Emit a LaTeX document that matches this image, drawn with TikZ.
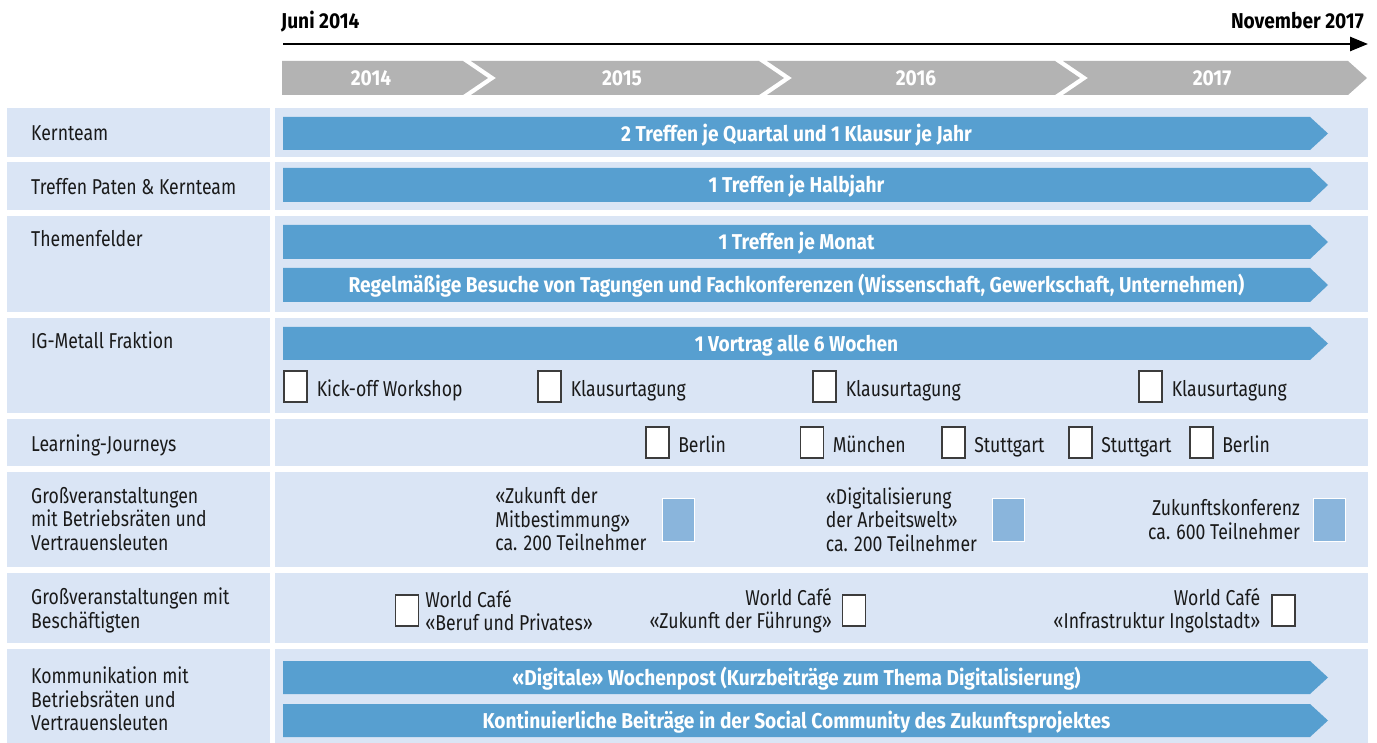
\documentclass[tikz,border=0pt]{standalone}
\usepackage{fontspec}
\setmainfont{Fira Sans}[UprightFeatures={FakeStretch=0.82}, BoldFeatures={FakeStretch=0.89}]
\usetikzlibrary{arrows.meta}
\usetikzlibrary{calc,positioning}

\definecolor{rowbg}{HTML}{DAE5F5}
\definecolor{barblue}{HTML}{579FD0}
\definecolor{eventblue}{HTML}{8AB5DC}
\definecolor{yeargray}{HTML}{B3B3B3}
\definecolor{ink}{HTML}{1A1A1A}

\newcommand{\planfont}{\fontsize{21.5}{23.5}\selectfont}

\newcommand{\planbar}[4]{%
  \fill[barblue] (283,#2) -- (1310,#2) -- (1328,{(#2+#3)/2}) -- (1310,#3) -- (283,#3) -- cycle;
  \node[bartext] (#1) at (796.5,{(#2+#3)/2}) {#4};
}

\tikzset{
  rowlabel/.style={anchor=base west, inner sep=0pt, font=\planfont, text=ink},
  longlabel/.style={anchor=north west, inner sep=0pt, align=left, font=\planfont, text=ink},
  bartext/.style={inner sep=0pt, text height=16pt, text depth=0pt, font=\bfseries\planfont, text=white},
  yeartext/.style={inner sep=0pt, text height=15pt, text depth=0pt, font=\bfseries\planfont, text=white},
  marker/.style={draw=ink!85, fill=white, line width=1.1pt, minimum width=23pt, minimum height=31pt, inner sep=0pt},
  bigevent/.style={draw=white, fill=eventblue, line width=0.8pt, minimum width=32pt, minimum height=43pt, inner sep=0pt},
  itemtext/.style={inner sep=0pt, text height=19pt, text depth=0pt, font=\planfont, text=ink},
  eventtext/.style={inner sep=0pt, font=\planfont, text=ink},
}

\begin{document}
\begin{tikzpicture}[x=1pt, y=-1pt, >={Triangle[length=18pt, width=14pt]}]

  \useasboundingbox (0,0) rectangle (1377,743);

  \node[anchor=base west, inner sep=0pt, font=\bfseries\planfont, text=black] (start) at (281,29) {Juni 2014};
  \node[anchor=base east, inner sep=0pt, font=\bfseries\planfont, text=black] (end) at (1364,29) {November 2017};
  \coordinate (tstart) at (283,44);
  \coordinate (tend) at (1368,44);
  \draw[->, line width=2.6pt] (tstart) -- (tend);

  \fill[yeargray] (282,61) -- (463,61) -- (488,78) -- (463,95) -- (282,95) -- cycle;
  \foreach \xa/\xb in {471/759, 767/1055}
    \fill[yeargray] (\xa,61) -- (\xb,61) -- ({\xb+25},78) -- (\xb,95) -- (\xa,95) -- ({\xa+25},78) -- cycle;
  \fill[yeargray] (1063,61) -- (1348,61) -- (1367,78) -- (1348,95) -- (1063,95) -- (1088,78) -- cycle;
  \foreach \cx/\yr in {371/2014, 622/2015, 916/2016, 1212/2017}
    \node[yeartext] (y\yr) at (\cx,78) {\yr};

  \foreach \ya/\yb in {108/157, 162/210, 216/312, 318/413, 419/466, 472/567, 573/643, 649/743} {
    \fill[rowbg] (7,\ya) rectangle (270,\yb);
    \fill[rowbg] (275,\ya) rectangle (1368,\yb);
  }

  \node[rowlabel] (kern) at (31,141) {Kernteam};
  \node[rowlabel] (paten) at (31,195) {Treffen Paten \& Kernteam};
  \node[rowlabel] (themen) at (31,247) {Themenfelder};
  \node[rowlabel] (igm) at (31,349) {IG-Metall Fraktion};
  \node[rowlabel] (journeys) at (31,451) {Learning-Journeys};
  \node[longlabel] (gvbr) at (31,487) {Großveranstaltungen\\mit Betriebsräten und\\Vertrauensleuten};
  \node[longlabel] (gvbe) at (31,588) {Großveranstaltungen mit\\Beschäftigten};
  \node[longlabel] (komm) at (31,667) {Kommunikation mit\\Betriebsräten und\\Vertrauensleuten};

  \planbar{quartal}{117}{150}{2 Treffen je Quartal und 1 Klausur je Jahr}
  \planbar{halbjahr}{168}{202}{1 Treffen je Halbjahr}
  \planbar{monat}{225}{259}{1 Treffen je Monat}
  \planbar{tagungen}{268}{302}{Regelmäßige Besuche von Tagungen und Fachkonferenzen (Wissenschaft, Gewerkschaft, Unternehmen)}
  \planbar{vortrag}{327}{360}{1 Vortrag alle 6 Wochen}
  \planbar{wochenpost}{661}{694}{«Digitale» Wochenpost (Kurzbeiträge zum Thema Digitalisierung)}
  \planbar{community}{704}{737}{Kontinuierliche Beiträge in der Social Community des Zukunftsprojektes}

  \foreach \cx/\lbl [count=\i] in {295.5/Kick-off Workshop, 549.5/Klausurtagung, 824.5/Klausurtagung, 1150.5/Klausurtagung} {
    \node[marker] (ws\i) at (\cx,386.5) {};
    \node[itemtext, right=9pt of ws\i] (wstext\i) {\lbl};
  }

  \foreach \cx/\lbl [count=\i] in {657.5/Berlin, 812/München, 953.5/Stuttgart, 1080.5/Stuttgart, 1201.5/Berlin} {
    \node[marker] (lj\i) at (\cx,442.5) {};
    \node[itemtext, right=8.5pt of lj\i] (ljtext\i) {\lbl};
  }

  \node[bigevent] (mitbest) at (678,519.5) {};
  \node[eventtext, align=left, left=15pt of mitbest] (mitbesttext) {«Zukunft der\\Mitbestimmung»\\ca. 200 Teilnehmer};
  \node[bigevent] (arbeitswelt) at (1008.5,519.5) {};
  \node[eventtext, align=left, left=15pt of arbeitswelt] (arbeitsweltext) {«Digitalisierung\\der Arbeitswelt»\\ca. 200 Teilnehmer};
  \node[bigevent] (konferenz) at (1329.5,519.5) {};
  \node[eventtext, align=right, left=13pt of konferenz] (konferenztext) {Zukunftskonferenz\\ca. 600 Teilnehmer};

  \node[marker] (cafe1) at (407,610.5) {};
  \node[eventtext, align=left, right=6pt of cafe1] (cafetext1) {World Café\\«Beruf und Privates»};
  \node[marker] (cafe2) at (854,610.5) {};
  \node[eventtext, align=right, left=10pt of cafe2] (cafetext2) {World Café\\«Zukunft der Führung»};
  \node[marker] (cafe3) at (1283.5,610.5) {};
  \node[eventtext, align=right, left=11pt of cafe3] (cafetext3) {World Café\\«Infrastruktur Ingolstadt»};

\end{tikzpicture}
\end{document}
